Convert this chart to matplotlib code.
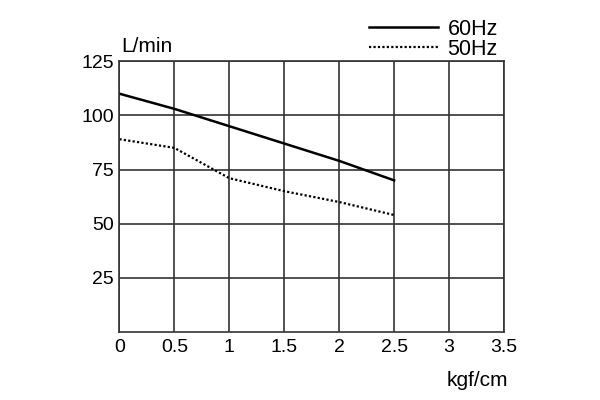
import numpy as np
import matplotlib.pyplot as plt

plt.rcParams['font.family'] = ['Liberation Sans', 'DejaVu Sans']

# pressure (kgf/cm) and flow (L/min)
pressure = [0, 0.5, 1, 1.5, 2, 2.5]
flow_60hz = [110, 103, 95, 87, 79, 70]
flow_50hz = [89, 85, 71, 65, 60, 54]

x_ticks = [0, 0.5, 1, 1.5, 2, 2.5, 3, 3.5]
x_labels = ['0', '0.5', '1', '1.5', '2', '2.5', '3', '3.5']
y_ticks = [25, 50, 75, 100, 125]

fig = plt.figure(figsize=(6, 4), dpi=100)
ax = fig.add_axes([0.199, 0.17, 0.641, 0.677])

ax.plot(pressure, flow_60hz, color='black', lw=1.8, label='60Hz')
ax.plot(pressure, flow_50hz, color='black', lw=1.6, ls=(0, (1, 1)), label='50Hz')

ax.set_xlim(0, 3.5)
ax.set_ylim(0, 125)
ax.set_xticks(x_ticks)
ax.set_xticklabels(x_labels)
ax.set_yticks(y_ticks)
ax.tick_params(length=0, labelsize=14)
ax.tick_params(axis='x', pad=5)
ax.tick_params(axis='y', pad=4)
ax.grid(True, color='#333333', lw=1.2)
for s in ax.spines.values():
    s.set_color('#333333')
    s.set_linewidth(1.2)

ax.text(0.005, 1.02, 'L/min', transform=ax.transAxes, fontsize=15, ha='left', va='bottom')
ax.text(1.01, -0.145, 'kgf/cm', transform=ax.transAxes, fontsize=15, ha='right', va='top')

fig.legend(loc='upper right', bbox_to_anchor=(0.83, 0.953), frameon=False, fontsize=15.5,
           handlelength=3.2, handletextpad=0.45, labelspacing=-0.05, borderpad=0,
           borderaxespad=0)

plt.savefig('out.png')
